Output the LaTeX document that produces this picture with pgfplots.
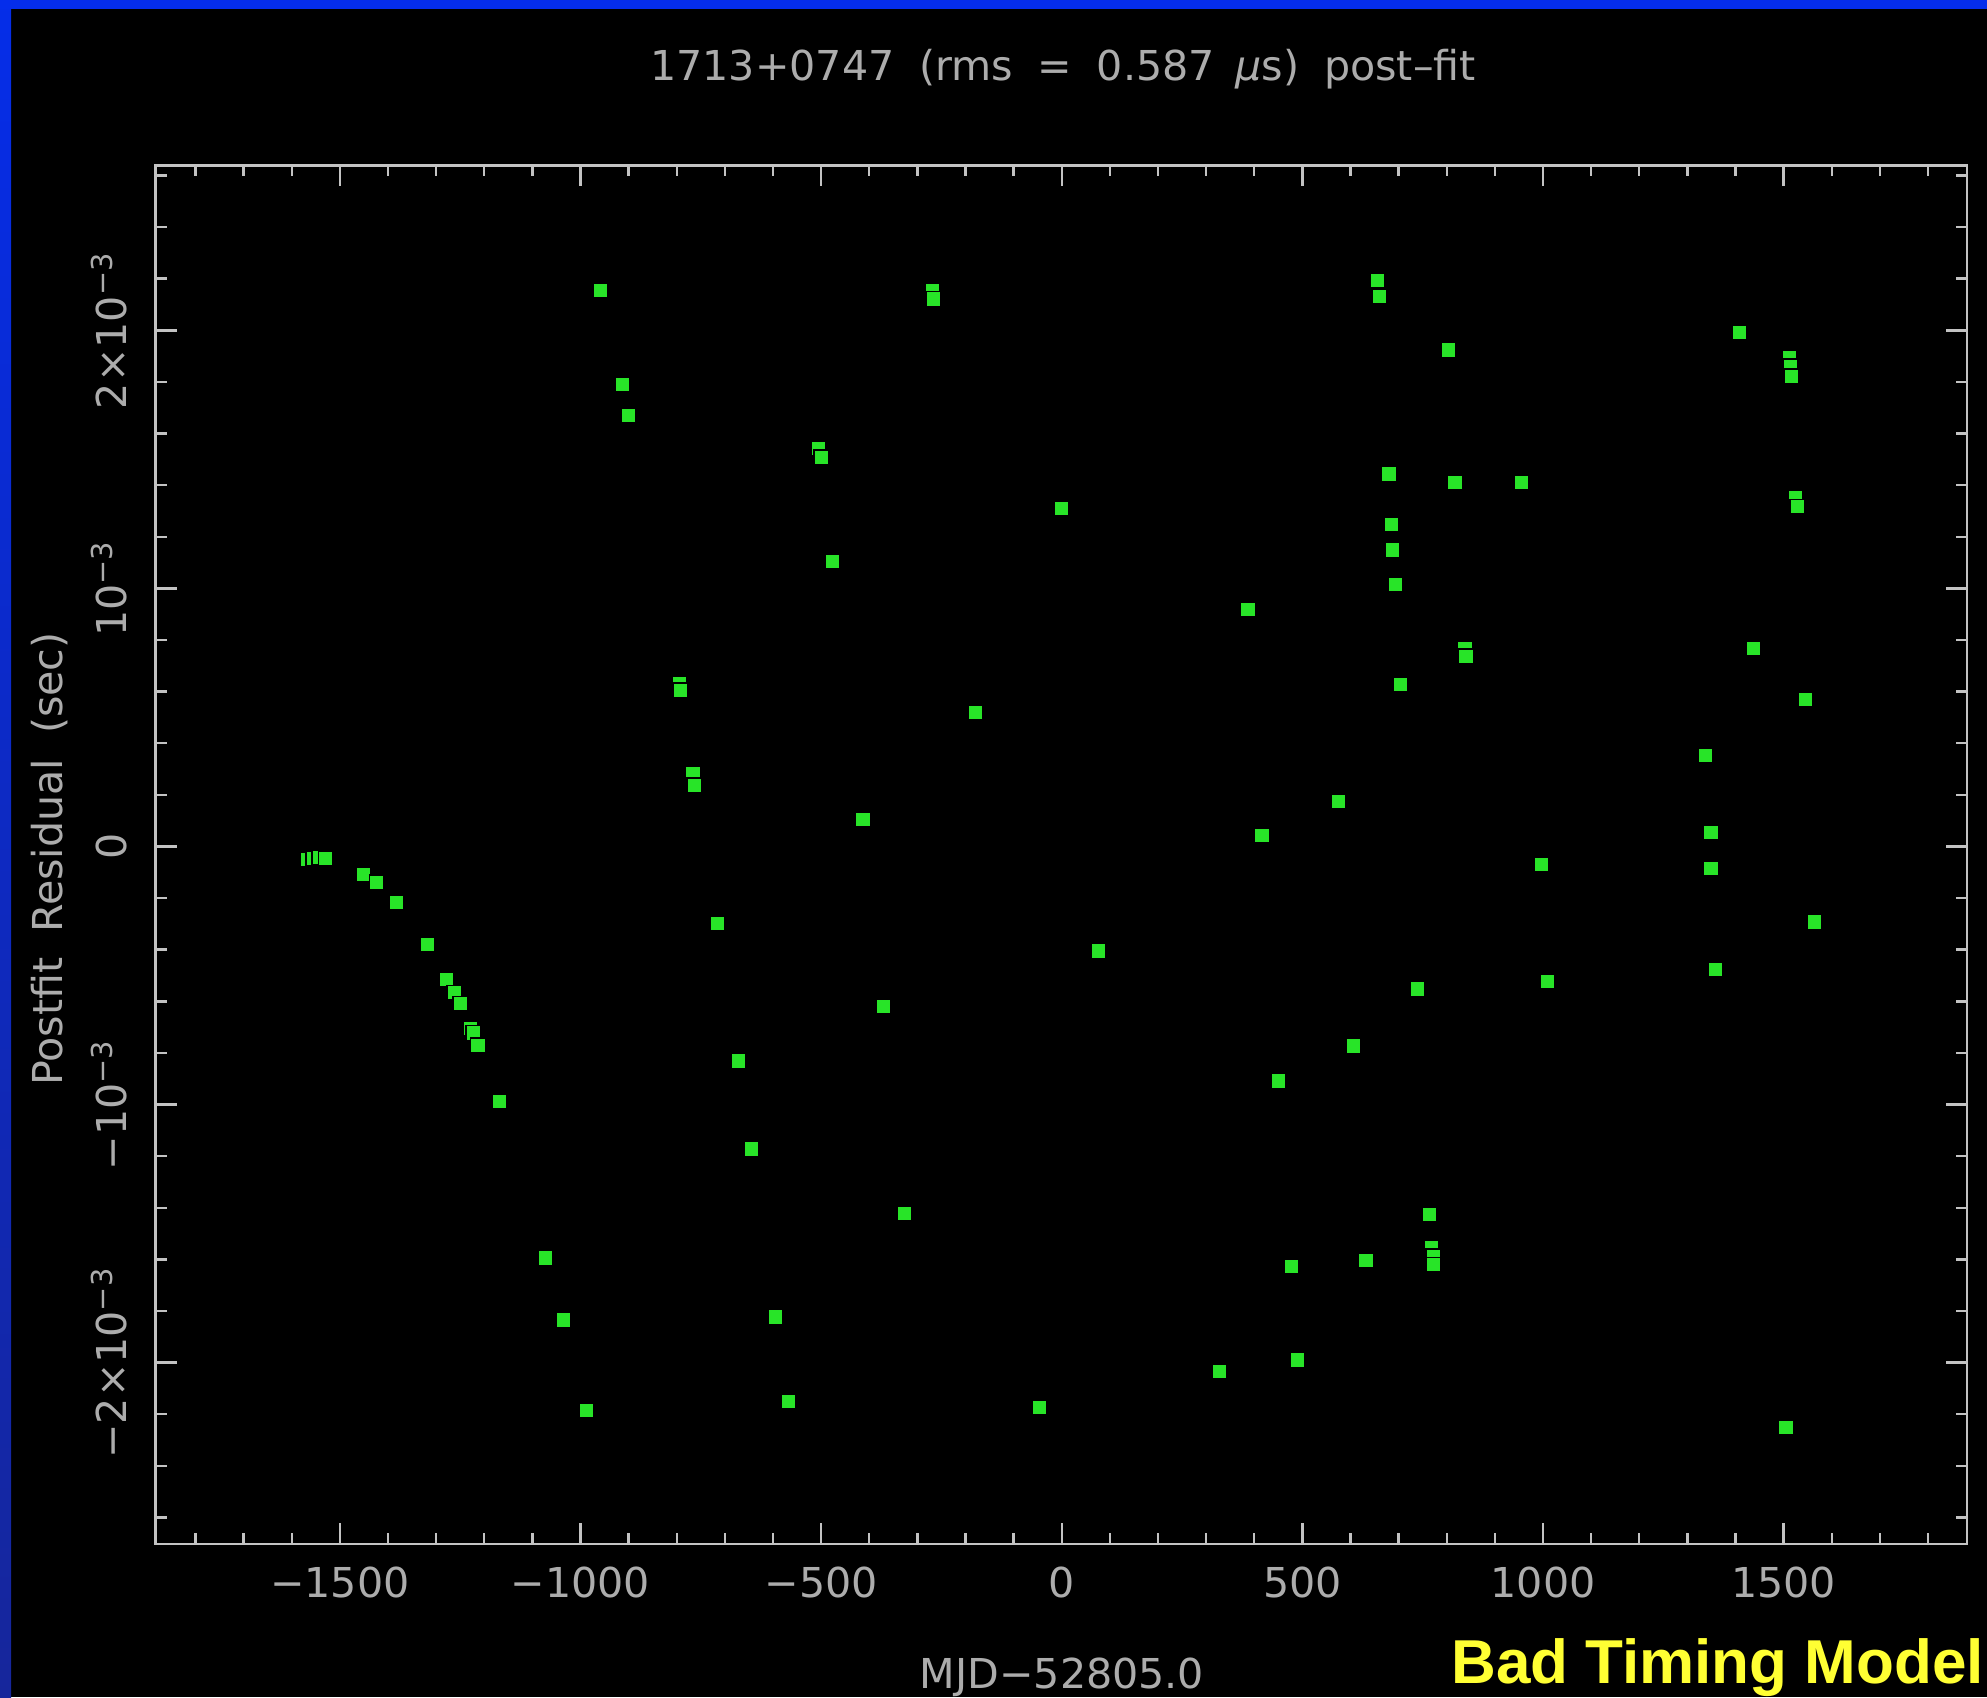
\documentclass[border=0pt]{standalone}
\usepackage{fontspec}
\setmainfont{Liberation Sans}
\newfontfamily\pgfont{DejaVu Sans}
\usepackage{pgfplots}
\pgfplotsset{compat=1.18}
\definecolor{pgfg}{RGB}{195,195,195}
\definecolor{pgtx}{RGB}{172,172,172}
\definecolor{dotgreen}{RGB}{40,228,40}
\definecolor{topblue}{RGB}{5,45,235}
\definecolor{leftblueA}{RGB}{5,45,232}
\definecolor{leftblueB}{RGB}{22,38,155}
\definecolor{ylw}{RGB}{255,255,51}
\newcommand{\pgf}{\pgfont\fontsize{10.3}{12}\selectfont}

\pgfplotstableread{
x y
-1568 -0.000049
-1555 -0.000047
-1542 -0.000044
-1529 -0.000047
-1450 -0.000108
-1423 -0.000140
-1383 -0.000218
-1318 -0.000380
-1278 -0.000515
-1262 -0.000567
-1249 -0.000610
-1229 -0.000705
-1223 -0.000723
-1213 -0.000771
-1169 -0.000987
-1072 -0.001595
-1036 -0.001835
-987 -0.002187
-958 0.002155
-913 0.001790
-900 0.001669
-795 0.000630
-792 0.000604
-766 0.000281
-763 0.000236
-716 -0.000299
-671 -0.000831
-644 -0.001172
-595 -0.001823
-568 -0.002150
-505 0.001541
-500 0.001507
-476 0.001105
-413 0.000105
-371 -0.000620
-326 -0.001422
-269 0.002155
-266 0.002121
-179 0.000520
-47 -0.002173
0 0.001311
77 -0.000405
327 -0.002036
387 0.000918
416 0.000043
451 -0.000909
477 -0.001629
490 -0.001990
575 0.000175
606 -0.000773
632 -0.001605
656 0.002194
661 0.002131
680 0.001443
685 0.001247
688 0.001149
693 0.001016
704 0.000628
740 -0.000552
764 -0.001426
769 -0.001555
772 -0.001588
772 -0.001621
804 0.001924
817 0.001409
838 0.000766
840 0.000736
956 0.001409
996 -0.000069
1009 -0.000523
1338 0.000353
1349 0.000054
1349 -0.000085
1359 -0.000477
1409 0.001993
1438 0.000768
1505 -0.002252
1512 0.001895
1514 0.001861
1517 0.001821
1525 0.001350
1528 0.001316
1546 0.000569
1564 -0.000293
}\residuals

\begin{document}
\begin{tikzpicture}[x=1pt,y=1pt]
\useasboundingbox (0,0) rectangle (496.75,424.25);
\fill[black] (0,0) rectangle (496.75,424.25);
\shade[top color=leftblueA,bottom color=leftblueB] (0,0) rectangle (2.75,424.25);
\fill[topblue] (0,422) rectangle (496.75,424.25);
\begin{axis}[
  at={(38.875pt,38.25pt)}, anchor=south west,
  scale only axis, width=452.875pt, height=344.65pt,
  xmin=-1883, xmax=1881, ymin=-0.002703, ymax=0.002639,
  axis line style={draw=pgfg, line width=0.7pt},
  every tick/.style={draw=pgfg, line width=0.6pt},
  major tick length=5.25pt, minor tick length=2.75pt,
  scaled x ticks=false, scaled y ticks=false,
  xtick={-1500,-1000,-500,0,500,1000,1500},
  xticklabels={−1500,−1000,−500,0,500,1000,1500},
  minor xtick={-1800,-1700,-1600,-1400,-1300,-1200,-1100,-900,-800,-700,-600,-400,-300,-200,-100,100,200,300,400,600,700,800,900,1100,1200,1300,1400,1600,1700,1800},
  ytick={-0.002,-0.001,0,0.001,0.002},
  yticklabels={−2×10\textsuperscript{−3},−10\textsuperscript{−3},0,10\textsuperscript{−3},2×10\textsuperscript{−3}},
  minor ytick={-0.0026,-0.0024,-0.0022,-0.0018,-0.0016,-0.0014,-0.0012,-0.0008,-0.0006,-0.0004,-0.0002,0.0002,0.0004,0.0006,0.0008,0.0012,0.0014,0.0016,0.0018,0.0022,0.0024,0.0026},
  tick label style={font=\pgf, text=pgtx},
  xticklabel style={anchor=north, inner xsep=0pt, inner ysep=5.5pt},
  yticklabel style={rotate=90, anchor=south, inner xsep=0pt, inner ysep=6.8pt},
]
\addplot[only marks, mark=square*, mark size=1.85pt, mark options={draw=none, fill=dotgreen}] table[x=x,y=y] {\residuals};
\end{axis}
\node[anchor=base, inner sep=0pt, text=pgtx, font=\pgf] at (265.75,404.0)
  {1713+0747\hspace{0.6em}(rms\hspace{0.6em}=\hspace{0.6em}0.587\hspace{0.5em}{\itshape μ}s)\hspace{0.6em}post–fit};
\node[anchor=base, inner sep=0pt, text=pgtx, font=\pgf] at (265.5,2.25) {MJD−52805.0};
\node[anchor=base, rotate=90, inner sep=0pt, text=pgtx, font=\pgf] at (15.5,209.5) {Postfit\hspace{0.6em}Residual\hspace{0.6em}(sec)};
\node[anchor=base east, inner sep=0pt, text=ylw, font=\bfseries\fontsize{15.5}{18}\selectfont] at (496.2,3.5) {Bad Timing Model};
\end{tikzpicture}
\end{document}
